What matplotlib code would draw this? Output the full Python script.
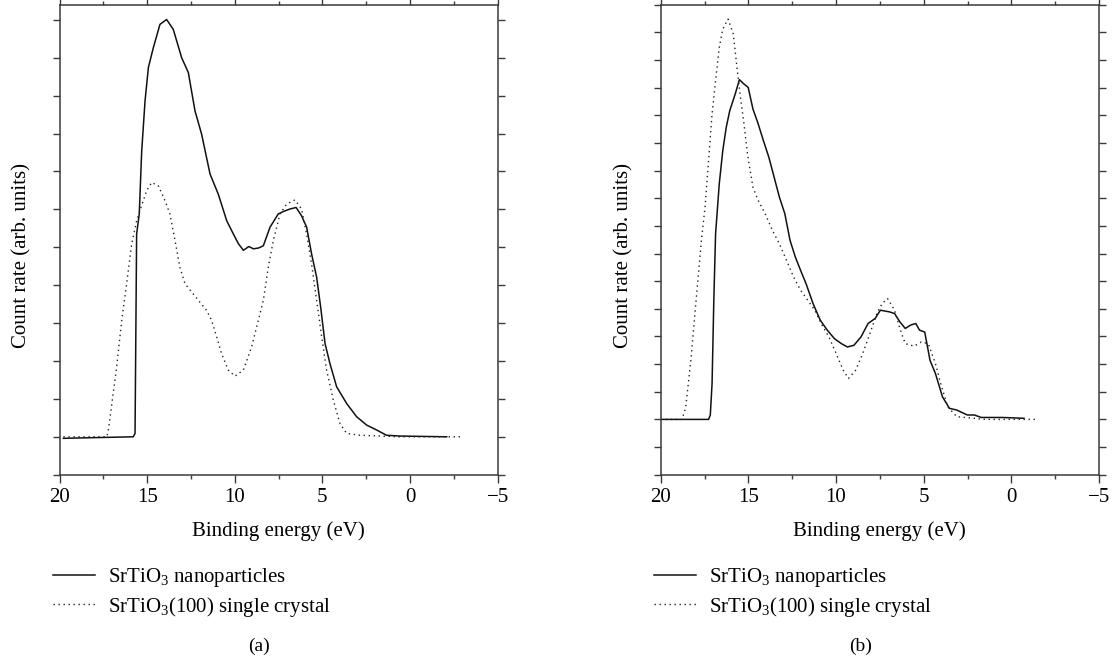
import matplotlib
matplotlib.use("Agg")
import matplotlib.pyplot as plt

plt.rcParams['font.family'] = ['Liberation Serif', 'DejaVu Serif']
plt.rcParams['mathtext.fontset'] = 'custom'
plt.rcParams['mathtext.rm'] = 'Liberation Serif'
plt.rcParams['mathtext.it'] = 'Liberation Serif:italic'

# panel (a)
e_a_np = [19.78, 15.79, 15.69, 15.60, 15.45, 15.31, 15.12, 14.93, 14.65, 14.27, 13.89, 13.51,
          13.03, 12.65, 12.27, 11.89, 11.41, 10.94, 10.46, 10.08, 9.80, 9.51, 9.20, 8.94, 8.65,
          8.37, 7.99, 7.52, 7.20, 6.85, 6.50, 6.19, 5.90, 5.62, 5.33, 5.10, 4.85, 4.57, 4.19,
          3.62, 3.05, 2.48, 1.91, 1.34, 0.58, -2.09]
i_a_np = [-0.04, 0.0, 0.09, 5.35, 5.88, 7.54, 8.86, 9.74, 10.26, 10.88, 11.01, 10.75,
          10.00, 9.61, 8.60, 7.98, 6.93, 6.40, 5.70, 5.35, 5.10, 4.92, 5.02, 4.96, 4.98,
          5.04, 5.53, 5.88, 5.95, 6.01, 6.05, 5.83, 5.53, 4.83, 4.21, 3.42, 2.46, 1.93, 1.32,
          0.88, 0.53, 0.31, 0.18, 0.04, 0.02, 0.0]
e_a_sc = [19.78, 17.3, 17.21, 16.74, 16.45, 16.17, 15.88, 15.60, 15.41, 15.03, 14.74, 14.36,
          13.98, 13.70, 13.41, 13.13, 12.84, 12.46, 11.99, 11.60, 11.32, 11.03, 10.75, 10.37,
          9.99, 9.51, 9.04, 8.66, 8.37, 8.09, 7.80, 7.42, 7.04, 6.57, 6.19, 5.90, 5.62, 5.33,
          5.04, 4.76, 4.38, 4.00, 3.62, 2.86, 0.58, -2.94]
i_a_sc = [0, 0, 0.18, 1.84, 3.07, 4.04, 5.09, 5.70, 5.97, 6.49, 6.71, 6.62,
          6.23, 5.88, 5.18, 4.47, 4.04, 3.82, 3.55, 3.33, 3.07, 2.63, 2.19, 1.76,
          1.60, 1.76, 2.37, 3.07, 3.60, 4.47, 5.18, 5.88, 6.14, 6.25, 6.01, 5.35, 4.56, 3.60,
          2.63, 1.76, 0.97, 0.35, 0.09, 0.04, 0, 0]

# panel (b)
e_b_np = [20, 17.27, 17.17, 17.07, 16.97, 16.87, 16.66, 16.46, 16.26, 16.06, 15.75, 15.51,
          15.25, 15.01, 14.74, 14.44, 14.14, 13.83, 13.53, 13.23, 12.92, 12.62, 12.32, 12.02,
          11.71, 11.31, 10.90, 10.50, 10.09, 9.69, 9.35, 8.98, 8.58, 8.17, 7.77, 7.47, 6.96,
          6.66, 6.36, 6.05, 5.75, 5.45, 5.24, 4.94, 4.64, 4.33, 3.93, 3.53, 3.12, 2.51, 2.11,
          1.71, 0.49, -0.72]
i_b_np = [0, 0, 0.16, 1.30, 4.31, 6.71, 8.52, 9.72, 10.57, 11.17, 11.77, 12.29,
          12.13, 12.01, 11.23, 10.69, 10.08, 9.48, 8.76, 8.04, 7.44, 6.47, 5.87, 5.39,
          4.91, 4.19, 3.59, 3.23, 2.92, 2.74, 2.62, 2.68, 2.98, 3.47, 3.65, 3.95, 3.89,
          3.83, 3.53, 3.29, 3.41, 3.47, 3.23, 3.16, 2.14, 1.66, 0.82, 0.40, 0.34, 0.16, 0.16,
          0.07, 0.07, 0.04]
e_b_sc = [20, 18.79, 18.58, 18.28, 17.98, 17.68, 17.47, 17.27, 17.07, 16.87, 16.66, 16.46,
          16.16, 15.86, 15.65, 15.45, 15.25, 15.05, 14.74, 14.44, 14.04, 13.63, 13.23, 12.82,
          12.42, 12.02, 11.61, 11.21, 10.80, 10.40, 9.99, 9.59, 9.29, 8.88, 8.48, 8.07, 7.67,
          7.37, 7.06, 6.66, 6.36, 6.05, 5.55, 5.14, 4.74, 4.33, 4.03, 3.63, 3.12, 1.50, -1.53]
i_b_sc = [0, 0, 0.40, 2.14, 4.31, 6.47, 7.68, 9.36, 11.05, 12.25, 13.45, 14.12,
          14.48, 13.94, 12.73, 11.65, 10.69, 9.60, 8.40, 7.92, 7.44, 6.84, 6.35, 5.75,
          5.15, 4.67, 4.31, 3.95, 3.41, 2.98, 2.38, 1.78, 1.48, 1.78, 2.38, 3.10, 3.83,
          4.19, 4.37, 3.95, 3.29, 2.74, 2.65, 2.80, 2.74, 2.02, 1.30, 0.46, 0.10, 0, 0]

labels = ['SrTiO$_3$ nanoparticles', 'SrTiO$_3$(100) single crystal']
panel_names = ['(a)', '(b)']
x_major = [20, 15, 10, 5, 0, -5]

W, H = 1115, 659
fig = plt.figure(figsize=(W / 100, H / 100), dpi=100)
ax_a = fig.add_axes([59.5 / W, 184.3 / H, 438.2 / W, 470 / H])
ax_b = fig.add_axes([660.7 / W, 184.3 / H, 438.3 / W, 470 / H])

spine_col = '#3a3a3a'
fs = 15

for ax, e1, i1, e2, i2, ylim, name in [
        (ax_a, e_a_np, i_a_np, e_a_sc, i_a_sc, (-1, 11.4), panel_names[0]),
        (ax_b, e_b_np, i_b_np, e_b_sc, i_b_sc, (-2, 15), panel_names[1])]:
    ax.plot(e1, i1, color='#111111', lw=1.1, label=labels[0])
    ax.plot(e2, i2, color='#222222', lw=1.0, linestyle=(0, (1, 2.6)), label=labels[1])
    ax.set_xlim(20, -5)
    ax.set_ylim(*ylim)
    ax.set_xticks(x_major)
    ax.set_xticks([17.5, 12.5, 7.5, 2.5, -2.5], minor=True)
    ax.set_yticks(range(int(ylim[0]), int(ylim[1]) + 1))
    ax.set_yticklabels([])
    ax.tick_params(axis='x', which='major', direction='out', length=5.8, width=1.0,
                   top=True, labelsize=fs, pad=4, color=spine_col)
    ax.tick_params(axis='x', which='minor', direction='out', length=2.8, width=1.0,
                   top=True, color=spine_col)
    ax.tick_params(axis='y', which='major', direction='out', length=5, width=1.0,
                   right=True, color=spine_col)
    for sp in ax.spines.values():
        sp.set_color(spine_col)
        sp.set_linewidth(1.1)
    ax.set_xlabel('Binding energy (eV)', fontsize=fs)
    ax.xaxis.set_label_coords(0.5, -0.10)
    ax.set_ylabel('Count rate (arb. units)', fontsize=fs)
    ax.yaxis.set_label_coords(-0.063, 0.467)
    ax.legend(loc='upper left', bbox_to_anchor=(-0.015, -0.195), frameon=False,
              fontsize=fs, handlelength=2.0, handletextpad=0.63, labelspacing=0.25,
              borderpad=0, borderaxespad=0)
    ax.text(0.455, -0.365, name, transform=ax.transAxes, ha='center', va='center',
            fontsize=fs - 1)

fig.savefig('out.png', dpi=100)
